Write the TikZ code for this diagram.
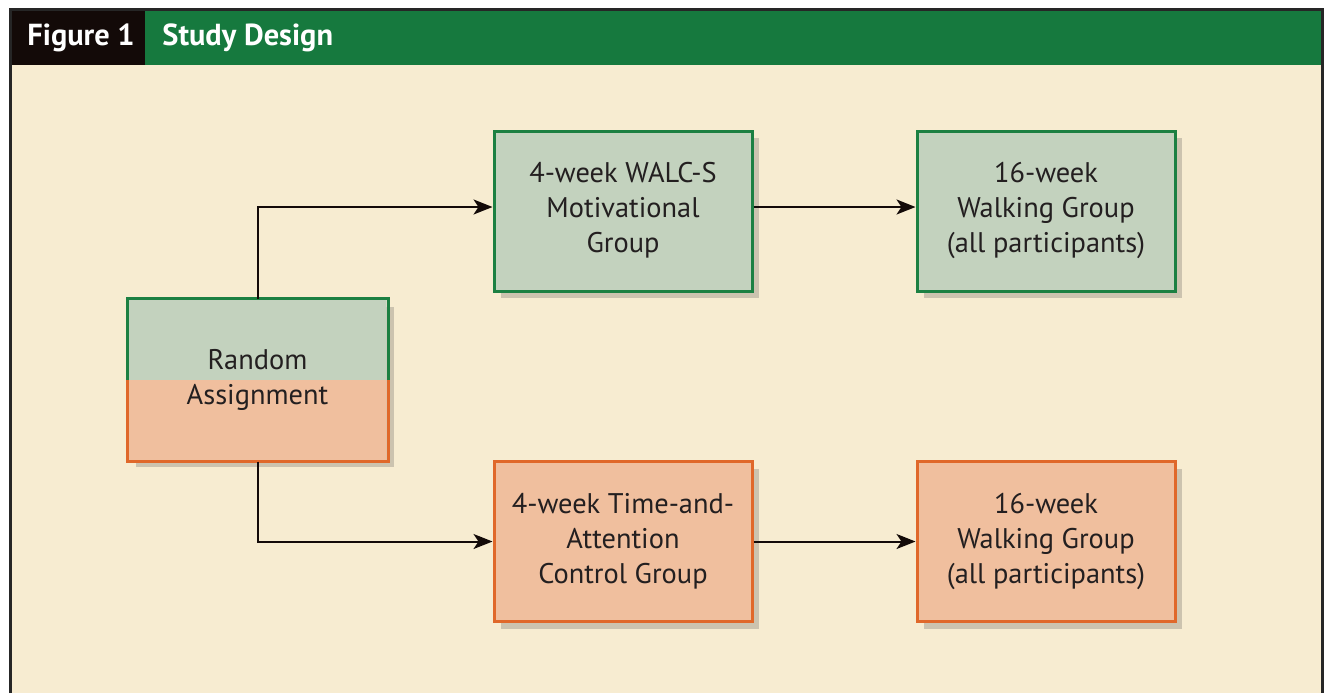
\documentclass[tikz,border=0pt]{standalone}
\usepackage{fontspec}
\setmainfont{PT Sans}
\usepackage{tikz}
\usetikzlibrary{arrows.meta,shadows}

\definecolor{hdrgreen}{HTML}{16793E}
\definecolor{hdrblack}{HTML}{130A08}
\definecolor{paper}{HTML}{F7ECD1}
\definecolor{grnfill}{HTML}{C3D2BE}
\definecolor{grnline}{HTML}{1C8042}
\definecolor{orgfill}{HTML}{F0BF9E}
\definecolor{orgline}{HTML}{E0682A}
\definecolor{ink}{HTML}{231F20}

\tikzset{
	box/.style={minimum width=129pt, minimum height=80pt, inner sep=0pt,
		line width=1.5pt, align=center, text=ink, font=\fontsize{14.2}{17.5}\selectfont,
		drop shadow={opacity=0.25, shadow xshift=3.5pt, shadow yshift=-3.5pt, fill=black!70}},
	grnbox/.style={box, draw=grnline, fill=grnfill},
	orgbox/.style={box, draw=orgline, fill=orgfill},
	link/.style={line width=1pt, draw=hdrblack, -{Stealth[length=9.5pt,width=7.5pt,inset=2.5pt]}},
	hdr/.style={anchor=base west, inner sep=0pt, text=white, font=\fontsize{15.2}{17}\selectfont\bfseries}
}

\begin{document}
\begin{tikzpicture}[x=0.5pt, y=-0.5pt]
		\useasboundingbox (0,0) rectangle (1325,693);
		% panel and header
		\fill[paper] (9,9) rectangle (1322,693);
		\fill[hdrgreen] (9,9) rectangle (1322,65);
		\fill[hdrblack] (9,9) rectangle (145,65);
		\draw[line width=1.5pt, draw=black!85] (10,693) -- (10,9) -- (1322,9) -- (1322,693);
		\node[hdr] (fig) at (27,45) {Figure 1};
		\node[hdr] (title) at (162,45) {Study Design};

		\coordinate (R) at (257.5,380);
		\coordinate (W) at (623,211);
		\coordinate (A) at (1046,211);
		\coordinate (T) at (623,541.5);
		\coordinate (B) at (1046,541.5);

		\node[box, path picture={
			\fill[grnfill] (path picture bounding box.north west) rectangle (path picture bounding box.east);
			\fill[orgfill] (path picture bounding box.west) rectangle (path picture bounding box.south east);}]
			(rand) at (R) {Random\\Assignment};
		\draw[line width=1.5pt, grnline] (rand.west) -- (rand.north west) -- (rand.north east) -- (rand.east);
		\draw[line width=1.5pt, orgline] (rand.west) -- (rand.south west) -- (rand.south east) -- (rand.east);

		\node[grnbox, text depth=4pt] (walc) at (W) {4-week WALC-S\\Motivational\\Group};
		\node[grnbox, text depth=4pt] (walkA) at (A) {16-week\\Walking Group\\(all participants)};
		\node[orgbox] (ctrl) at (T) {4-week Time-and-\\Attention\\Control Group};
		\node[orgbox] (walkB) at (B) {16-week\\Walking Group\\(all participants)};

		\draw[link] (rand.north) |- ([yshift=2pt]walc.west);
		\draw[link] (rand.south) |- (ctrl.west);
		\draw[link] ([yshift=2pt]walc.east) -- ([yshift=2pt]walkA.west);
		\draw[link] (ctrl) -- (walkB);
		\end{tikzpicture}
\end{document}
